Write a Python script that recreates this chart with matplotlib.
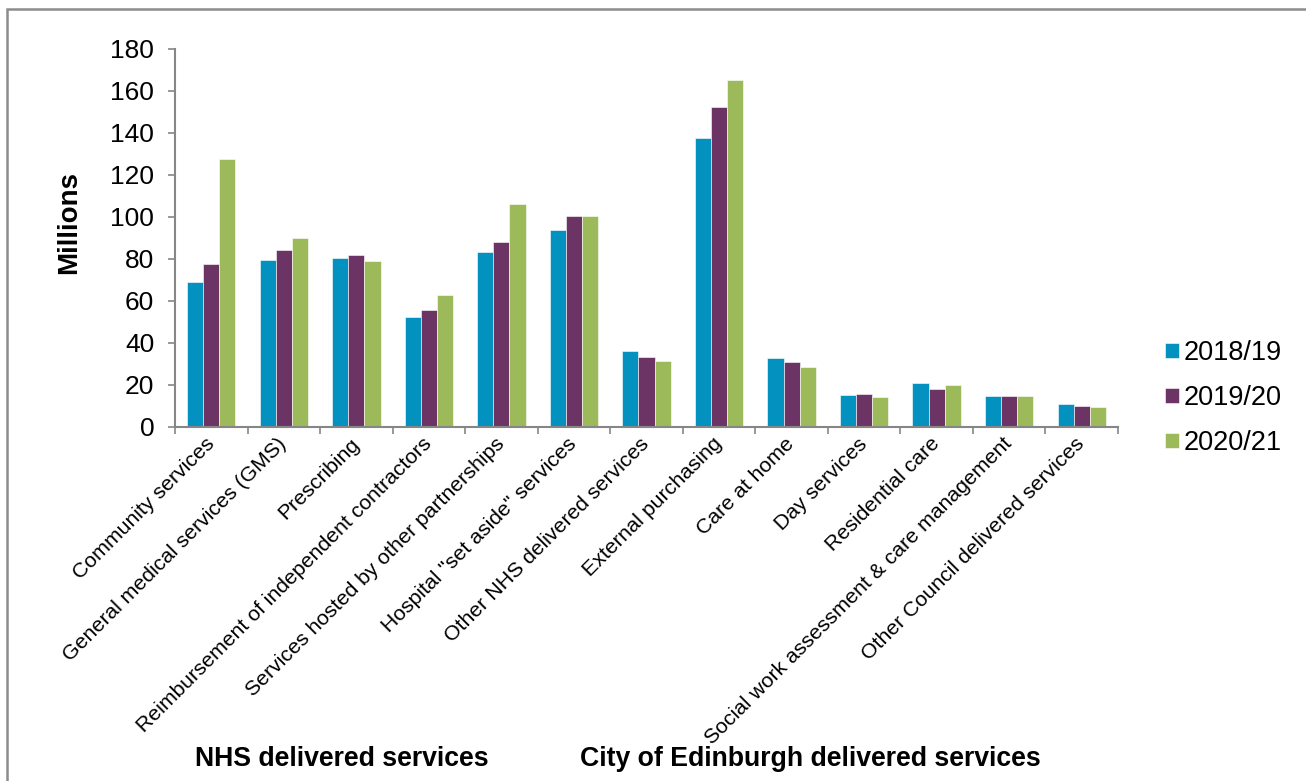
import matplotlib
matplotlib.use("Agg")
import matplotlib.pyplot as plt
import numpy as np
from matplotlib.patches import Rectangle

plt.rcParams['font.family'] = ['Liberation Sans', 'DejaVu Sans']

categories = ["Community services", "General medical services (GMS)", "Prescribing",
              "Reimbursement of independent contractors", "Services hosted by other partnerships",
              'Hospital "set aside" services', "Other NHS delivered services",
              "External purchasing", "Care at home", "Day services", "Residential care",
              "Social work assessment & care management", "Other Council delivered services"]
series_names = ["2018/19", "2019/20", "2020/21"]
v2018 = [69.0, 79.5, 80.7, 52.6, 83.4, 93.7, 36.1, 137.7, 32.7, 15.4, 20.8, 14.6, 10.8]
v2019 = [77.5, 84.1, 81.8, 55.6, 88.0, 100.7, 33.4, 152.2, 30.8, 15.6, 18.1, 15.0, 9.9]
v2020 = [127.6, 90.1, 79.1, 62.9, 106.3, 100.7, 31.5, 165.2, 28.5, 14.2, 19.9, 14.6, 9.5]
colors = ["#0391BF", "#6C3465", "#9CBA5A"]
group_labels = ["NHS delivered services", "City of Edinburgh delivered services"]

fig = plt.figure(figsize=(13.06, 7.81), dpi=100)
ax = fig.add_axes([175/1306, 1-427/781, (1118-175)/1306, (427-49)/781])

x = np.arange(len(categories))
w = 0.222
for i, (vals, name, c) in enumerate(zip([v2018, v2019, v2020], series_names, colors)):
    ax.bar(x + (i-1)*w, vals, width=w, color=c, label=name, edgecolor='white', linewidth=0.4)

ax.set_xlim(-0.5, len(categories)-0.5)
ax.set_ylim(0, 180)
ax.set_yticks(np.arange(0, 181, 20))
ax.tick_params(axis='y', labelsize=19, length=5, width=1.2, color='#868686', pad=10)
ax.set_xticks(x)
ax.set_xticklabels(categories, rotation=45, ha='right', va='center', rotation_mode='anchor', fontsize=15.3)
ax.tick_params(axis='x', which='major', length=0, pad=10)
ax.set_xticks(np.arange(-0.5, len(categories), 1), minor=True)
ax.tick_params(axis='x', which='minor', length=5, width=1.2, color='#868686')
for s in ['top', 'right']:
    ax.spines[s].set_visible(False)
for s in ['left', 'bottom']:
    ax.spines[s].set_color('#868686')
    ax.spines[s].set_linewidth(1.5)
ax.set_ylabel("Millions", fontsize=20, fontweight='bold')
ax.yaxis.set_label_coords(-0.0986, 0.54)

leg = ax.legend(loc='center left', bbox_to_anchor=(1.024, 0.0767), frameon=False, fontsize=19.5,
                handlelength=0.5, handleheight=0.5, handletextpad=0.2, labelspacing=0.7)

fig.text(195/1306, 1-759/781, group_labels[0], fontsize=19.2, fontweight='bold', va='center', ha='left')
fig.text(580/1306, 1-759/781, group_labels[1], fontsize=19.2, fontweight='bold', va='center', ha='left')

fig.patches.append(Rectangle((6.5/1306, -0.05), 1.1, 1-9/781+0.05, transform=fig.transFigure,
                             fill=False, edgecolor='#8c8c8c', linewidth=1.8))

fig.savefig("out.png", dpi=100)
